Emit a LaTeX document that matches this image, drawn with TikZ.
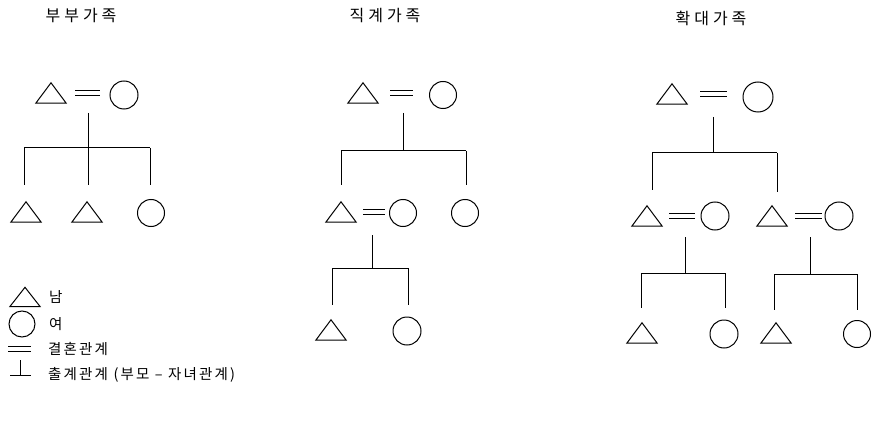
\documentclass[tikz,border=0pt]{standalone}
\usepackage{fontspec}
\newfontfamily\krtitle[LetterSpace=25]{Noto Sans CJK KR}
\newfontfamily\krleg[LetterSpace=15]{Noto Sans CJK KR}
\usetikzlibrary{calc}
\tikzset{
  maleshape/.style={rectangle, minimum width=30pt, minimum height=20pt, inner sep=0pt},
  femaleshape/.style={circle, draw, line width=1pt, minimum size=27pt, inner sep=0pt},
  kin/.style={line width=1pt},
  marriage/.style={line width=0.9pt, double, double distance=3.4pt},
  ttl/.style={font=\krtitle\fontsize{16}{16}\selectfont, inner sep=0pt},
  legtxt/.style={font=\krleg\fontsize{14.5}{14.5}\selectfont, anchor=west, inner sep=0pt}
}
\begin{document}
\begin{tikzpicture}[x=1pt,y=-1pt]
\useasboundingbox (0,0) rectangle (874,422);

% titles
\node[ttl] (t1) at (81,16) {부부가족};
\node[ttl] (t2) at (385,16) {직계가족};
\node[ttl] (t3) at (711,18) {확대가족};

% ---------- family 1
\node[maleshape] (a1) at (51,93) {};
\node[femaleshape, minimum size=28pt] (b1) at (124,95) {};
\node[maleshape] (k11) at (26,212) {};
\node[maleshape] (k12) at (87,212) {};
\node[femaleshape] (k13) at (151,213) {};
\draw[marriage, shorten <=9pt, shorten >=10pt] (a1.east) -- (a1.east -| b1.west);
\coordinate (s1) at (88,113);
\coordinate (L1) at (24,148);
\coordinate (R1) at (150,148);
\draw[kin, shorten >=17pt] (s1) -- (s1 |- k12.north);
\draw[kin] (L1) -- (R1);
\draw[kin, shorten >=17pt] (L1) -- (L1 |- k11.north);
\draw[kin, shorten >=14.5pt] (R1) -- (R1 |- k13.north);

% ---------- family 2
\node[maleshape] (a2) at (363,93) {};
\node[femaleshape] (b2) at (443,95) {};
\node[maleshape] (a3) at (341,212) {};
\node[femaleshape] (b3) at (403,213) {};
\node[femaleshape] (c3) at (465,213) {};
\node[maleshape] (k31) at (331,330) {};
\node[femaleshape, minimum size=28pt] (k32) at (407,331) {};
\draw[marriage, shorten <=12pt, shorten >=16.5pt] (a2.east) -- (a2.east -| b2.west);
\draw[marriage, shorten <=7pt, shorten >=4.5pt] (a3.east) -- (a3.east -| b3.west);
\coordinate (s2) at (403,113);
\coordinate (L2) at (341,151);
\coordinate (R2) at (466,151);
\draw[kin] (s2) -- (s2 |- L2);
\draw[kin] (L2) -- (R2);
\draw[kin, shorten >=17pt] (L2) -- (L2 |- a3.north);
\draw[kin, shorten >=14.5pt] (R2) -- (R2 |- c3.north);
\coordinate (s3) at (372,235);
\coordinate (L3) at (332,268);
\coordinate (R3) at (408,268);
\draw[kin] (s3) -- (s3 |- L3);
\draw[kin] (L3) -- (R3);
\draw[kin, shorten >=15pt] (L3) -- (L3 |- k31.north);
\draw[kin, shorten >=12pt] (R3) -- (R3 |- k32.north);

% ---------- family 3
\node[maleshape] (a4) at (672,94) {};
\node[femaleshape, minimum size=30pt] (b4) at (758,97) {};
\node[maleshape] (a5) at (647,216) {};
\node[femaleshape, minimum size=28pt] (b5) at (715,216) {};
\node[maleshape] (a6) at (772,216) {};
\node[femaleshape, minimum size=28pt] (b6) at (839,216) {};
\node[maleshape] (k51) at (642,333) {};
\node[femaleshape, minimum size=28pt] (k52) at (724,334) {};
\node[maleshape] (k61) at (776,333) {};
\node[femaleshape] (k62) at (857,334) {};
\draw[marriage, shorten <=13pt, shorten >=16pt] (a4.east) -- (a4.east -| b4.west);
\draw[marriage, shorten <=7pt, shorten >=6pt] (a5.east) -- (a5.east -| b5.west);
\draw[marriage, shorten <=8pt, shorten >=3pt] (a6.east) -- (a6.east -| b6.west);
\coordinate (s4) at (713,117);
\coordinate (L4) at (652,153);
\coordinate (R4) at (777,153);
\draw[kin] (s4) -- (s4 |- L4);
\draw[kin] (L4) -- (R4);
\draw[kin, shorten >=16pt] (L4) -- (L4 |- a5.north);
\draw[kin, shorten >=14pt] (R4) -- (R4 |- a6.north);
\coordinate (s5) at (685,237);
\coordinate (L5) at (641,273);
\coordinate (R5) at (725,273);
\draw[kin] (s5) -- (s5 |- L5);
\draw[kin] (L5) -- (R5);
\draw[kin, shorten >=15pt] (L5) -- (L5 |- k51.north);
\draw[kin, shorten >=12pt] (R5) -- (R5 |- k52.north);
\coordinate (s6) at (810,237);
\coordinate (L6) at (774,274);
\coordinate (R6) at (857,274);
\draw[kin] (s6) -- (s6 |- L6);
\draw[kin] (L6) -- (R6);
\draw[kin, shorten >=13pt] (L6) -- (L6 |- k61.north);
\draw[kin, shorten >=10.5pt] (R6) -- (R6 |- k62.north);

% ---------- legend
\node[maleshape, minimum height=19pt] (lm) at (25,297) {};
\node[legtxt] (lmt) at (49,297) {남};
\node[femaleshape, minimum size=26pt] (lf) at (22,324) {};
\node[legtxt] (lft) at (49,324) {여};
\coordinate (e1) at (8,349);
\coordinate (e2) at (31,349);
\draw[marriage] (e1) -- (e2);
\node[legtxt] (lmar) at (48,349) {결혼관계};
\coordinate (d1) at (20,360);
\coordinate (d2) at (20,375);
\coordinate (d3) at (10,375);
\coordinate (d4) at (31,375);
\draw[kin] (d1) -- (d2);
\draw[kin] (d3) -- (d4);
\node[legtxt] (ldes) at (48,375) {출계관계 (부모 – 자녀관계)};

% triangles
\foreach \n in {a1,k11,k12,a2,a3,k31,a4,a5,a6,k51,k61,lm}
  \draw[kin, line join=miter] (\n.south west) -- (\n.north) -- (\n.south east) -- cycle;
\end{tikzpicture}
\end{document}
